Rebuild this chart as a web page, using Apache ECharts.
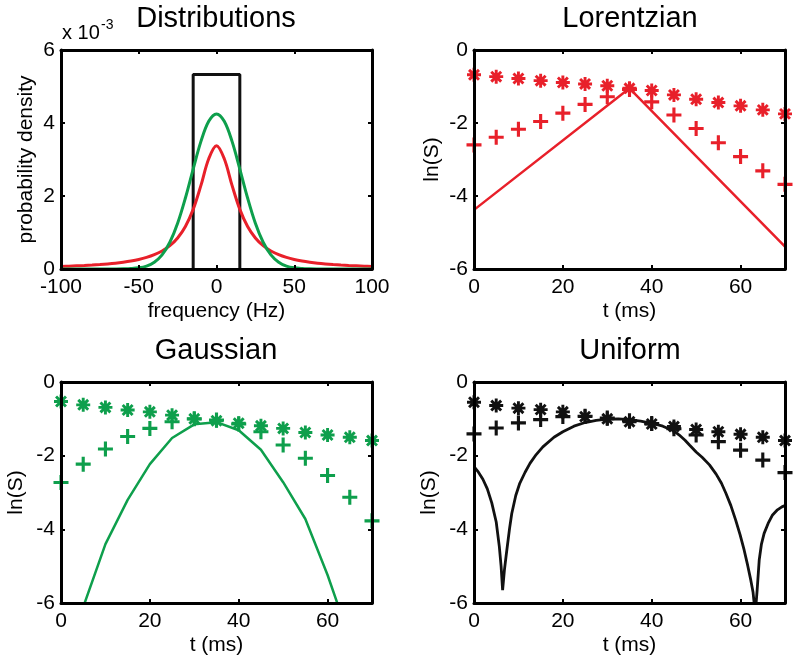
<!DOCTYPE html>
<html>
<head>
<meta charset="utf-8">
<script src="https://cdn.jsdelivr.net/npm/echarts@6/dist/echarts.min.js"></script>
<style>html,body{margin:0;padding:0;background:#fff;}#chart{width:800px;height:670px;}</style>
</head>
<body>
<div id="chart"></div>
<script>
// ---------- data ----------
const freqHz = [-100,-95,-90,-85,-80,-75,-70,-65,-60,-55,-50,-45,-40,-35,-30,-25,-20,-15,-10,-5,0,5,10,15,20,25,30,35,40,45,50,55,60,65,70,75,80,85,90,95,100];
const lorentzDensity = [0.070,0.077,0.086,0.096,0.108,0.122,0.139,0.160,0.187,0.220,0.262,0.318,0.393,0.495,0.640,0.851,1.165,1.633,2.291,3.021,3.38,3.021,2.291,1.633,1.165,0.851,0.640,0.495,0.393,0.318,0.262,0.220,0.187,0.160,0.139,0.122,0.108,0.096,0.086,0.077,0.070];
const gaussDensity = [0,0,0,0,0,0,0,0.001,0.004,0.012,0.032,0.081,0.187,0.388,0.733,1.254,1.946,2.739,3.496,4.047,4.25,4.047,3.496,2.739,1.946,1.254,0.733,0.388,0.187,0.081,0.032,0.012,0.004,0.001,0,0,0,0,0,0,0];
const boxX = [-15,-15,15,15];
const boxY = [0,5.33,5.33,0];

const tSamples = [0,5,10,15,20,25,30,35,40,45,50,55,60,65,70];

const lorStar = [-0.68,-0.73,-0.78,-0.84,-0.89,-0.93,-0.98,-1.05,-1.11,-1.23,-1.35,-1.44,-1.53,-1.64,-1.75];
const lorPlus = [-2.60,-2.39,-2.17,-1.96,-1.73,-1.49,-1.28,-1.08,-1.42,-1.78,-2.15,-2.54,-2.92,-3.31,-3.68];
const lorLineT = [0,35,70];
const lorLineY = [-4.38,-1.05,-5.39];

const gauStar = [-0.53,-0.62,-0.69,-0.76,-0.81,-0.90,-1.00,-1.05,-1.12,-1.19,-1.26,-1.37,-1.44,-1.50,-1.59];
const gauPlus = [-2.73,-2.23,-1.82,-1.48,-1.26,-1.08,-1.00,-1.03,-1.14,-1.35,-1.71,-2.07,-2.54,-3.13,-3.77];
const gauLine = [-8.00,-6.11,-4.40,-3.20,-2.23,-1.52,-1.15,-1.09,-1.31,-1.84,-2.72,-3.72,-5.24,-6.98,-9.02];

const uniStar = [-0.55,-0.64,-0.71,-0.75,-0.81,-0.94,-1.00,-1.08,-1.14,-1.21,-1.29,-1.35,-1.42,-1.50,-1.59];
const uniPlus = [-1.41,-1.25,-1.11,-1.02,-0.94,-0.93,-0.98,-1.05,-1.13,-1.27,-1.44,-1.62,-1.85,-2.12,-2.46];
const uniLineT = [0,1,2,3,4,5,5.7,6.1,6.44,6.85,7.3,8,8.5,9.4,10.3,11.5,12.6,14,15.5,18,20,22.5,25,27.5,30,32.5,35,37.5,40,42.5,45,46.2,47.5,48.5,50,51.4,53,54.5,55.7,56.7,57.8,58.9,59.9,60.8,61.6,62.3,62.8,63.3,63.7,64.2,64.7,65.3,66.2,67.2,68.3,69.3,70];
const uniLineY = [-2.30,-2.45,-2.64,-2.90,-3.28,-3.80,-4.47,-5.00,-5.65,-5.10,-4.65,-3.98,-3.57,-3.08,-2.75,-2.45,-2.21,-1.97,-1.76,-1.50,-1.35,-1.20,-1.10,-1.04,-1.01,-1.00,-1.02,-1.06,-1.12,-1.20,-1.33,-1.44,-1.58,-1.71,-1.90,-2.05,-2.25,-2.50,-2.75,-3.02,-3.35,-3.75,-4.15,-4.56,-4.98,-5.38,-5.70,-6.30,-5.70,-4.83,-4.40,-4.11,-3.84,-3.61,-3.47,-3.39,-3.35];

const freqTicks = [-100,-50,0,50,100];
const densTicks = [0,2,4,6];
const timeTicks = [0,20,40,60];
const lnTicks = [-6,-4,-2,0];

// ---------- styling ----------
const RED = '#E8202A';
const GREEN = '#0E9F4C';
const BLACK = '#111111';
const FONT = 'Liberation Sans, Arial, Helvetica, sans-serif';
const STAR = 'path://M9.5 0L14.5 0L14.5 24L9.5 24Z M0 9.5L24 9.5L24 14.5L0 14.5Z M5.28 1.74L22.26 18.72L18.72 22.26L1.74 5.28Z M22.26 5.28L5.28 22.26L1.74 18.72L18.72 1.74Z';
const PLUS = 'path://M9.5 0L14.5 0L14.5 9.5L24 9.5L24 14.5L14.5 14.5L14.5 24L9.5 24L9.5 14.5L0 14.5L0 9.5L9.5 9.5Z';

const grids = [
  {left: 61, top: 50, width: 311, height: 219},
  {left: 474, top: 50, width: 311, height: 219},
  {left: 61, top: 382, width: 311, height: 221},
  {left: 474, top: 382, width: 311, height: 221}
];

const xAxes = [], yAxes = [];
function addAxes(g, xt, xmax, yt, ymax, xname, yname, yGap) {
  const xmin = xt[0], xint = xt[1] - xt[0];
  const ymin = yt[0], yint = yt[1] - yt[0];
  const lineStyle = {color: '#000', width: 3};
  const tick = {show: true, inside: true, length: 4, lineStyle: {color: '#000', width: 2}};
  xAxes.push({
    type: 'value', gridIndex: g, min: xmin, max: xmax, interval: xint, position: 'bottom', z: 10,
    axisLine: {show: true, onZero: false, lineStyle},
    axisTick: tick,
    axisLabel: {color: '#000', fontSize: 21, fontFamily: FONT, margin: 8, showMaxLabel: xt[xt.length-1] === xmax},
    splitLine: {show: false},
    name: xname, nameLocation: 'middle', nameGap: 32,
    nameTextStyle: {color: '#000', fontSize: 21, fontFamily: FONT}
  });
  xAxes.push({
    type: 'value', gridIndex: g, min: xmin, max: xmax, interval: xint, position: 'top', z: 10,
    axisLine: {show: true, onZero: false, lineStyle},
    axisTick: tick, axisLabel: {show: false}, splitLine: {show: false}
  });
  yAxes.push({
    type: 'value', gridIndex: g, min: ymin, max: ymax, interval: yint, position: 'left', z: 10,
    axisLine: {show: true, onZero: false, lineStyle},
    axisTick: tick,
    axisLabel: {color: '#000', fontSize: 21, fontFamily: FONT, margin: 6},
    splitLine: {show: false},
    name: yname, nameLocation: 'middle', nameGap: yGap, nameRotate: 90,
    nameTextStyle: {color: '#000', fontSize: 21, fontFamily: FONT}
  });
  yAxes.push({
    type: 'value', gridIndex: g, min: ymin, max: ymax, interval: yint, position: 'right', z: 10,
    axisLine: {show: true, onZero: false, lineStyle},
    axisTick: tick, axisLabel: {show: false}, splitLine: {show: false}
  });
}
addAxes(0, freqTicks, 100, densTicks, 6, 'frequency (Hz)', 'probability density', 24);
addAxes(1, timeTicks, 70, lnTicks, 0, 't (ms)', 'ln(S)', 31);
addAxes(2, timeTicks, 70, lnTicks, 0, 't (ms)', 'ln(S)', 34);
addAxes(3, timeTicks, 70, lnTicks, 0, 't (ms)', 'ln(S)', 34);

function zip(xs, ys) { return xs.map((x, i) => [x, ys[i]]); }
function lineS(g, data, color, width, smooth) {
  return {type: 'line', xAxisIndex: 2*g, yAxisIndex: 2*g, data, showSymbol: false, symbol: 'none',
    smooth: smooth || false,
    lineStyle: {color, width, opacity: 1}, itemStyle: {color}, z: 2, silent: true};
}
function markS(g, vals, color, sym, size, z) {
  return {type: 'scatter', xAxisIndex: 2*g, yAxisIndex: 2*g, data: zip(tSamples, vals),
    symbol: sym, symbolSize: size, itemStyle: {color, opacity: 1}, clip: false, z: z, silent: true};
}

const series = [
  lineS(0, zip(boxX, boxY), BLACK, 3),
  lineS(0, zip(freqHz, lorentzDensity), RED, 3, 0.35),
  lineS(0, zip(freqHz, gaussDensity), GREEN, 3, 0.35),

  lineS(1, zip(lorLineT, lorLineY), RED, 2.5),
  markS(1, lorPlus, RED, PLUS, 15, 3),
  markS(1, lorStar, RED, STAR, 14, 4),

  lineS(2, zip(tSamples, gauLine), GREEN, 2.5),
  markS(2, gauPlus, GREEN, PLUS, 15, 3),
  markS(2, gauStar, GREEN, STAR, 14, 4),

  lineS(3, zip(uniLineT, uniLineY), BLACK, 2.8),
  markS(3, uniPlus, BLACK, PLUS, 15, 3),
  markS(3, uniStar, BLACK, STAR, 14, 4)
];

function titleAt(text, x, y) {
  return {text, left: x, top: y, textAlign: 'center', padding: 0,
    textStyle: {fontSize: 29, fontWeight: 'normal', color: '#000', fontFamily: FONT}};
}

const chart = echarts.init(document.getElementById('chart'), null, {renderer: 'canvas'});
chart.setOption({
  backgroundColor: '#fff',
  animation: false,
  title: [
    titleAt('Distributions', 216, 4),
    titleAt('Lorentzian', 630, 4),
    titleAt('Gaussian', 216, 336),
    titleAt('Uniform', 630, 336)
  ],
  graphic: [
    {type: 'text', x: 62, y: 23, style: {text: 'x 10', fontSize: 20, fontFamily: FONT, fill: '#000'}},
    {type: 'text', x: 101, y: 18, style: {text: '-3', fontSize: 14, fontFamily: FONT, fill: '#000'}}
  ],
  grid: grids,
  xAxis: xAxes,
  yAxis: yAxes,
  series
});
</script>
</body>
</html>
